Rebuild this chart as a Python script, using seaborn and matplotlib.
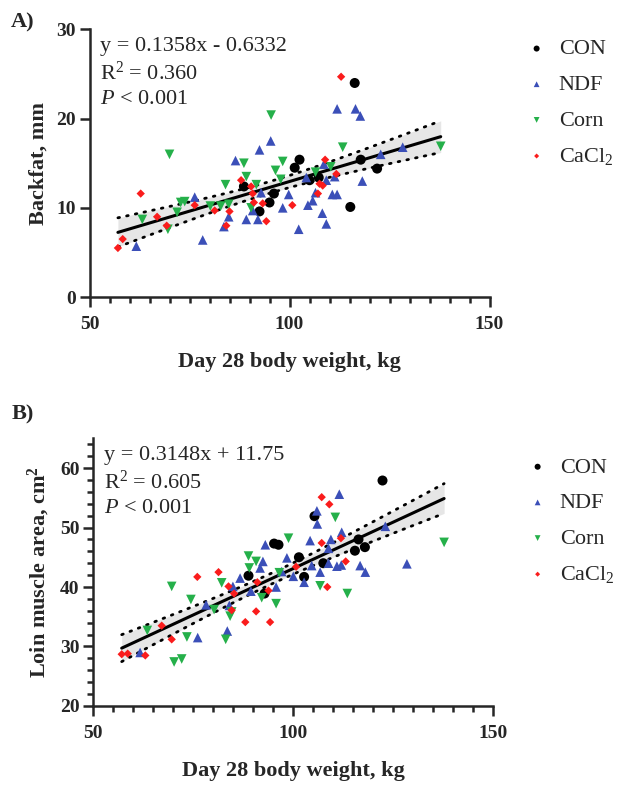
import numpy as np
import pandas as pd
import matplotlib
matplotlib.use("Agg")
import matplotlib.pyplot as plt
import seaborn as sns
from matplotlib.ticker import MultipleLocator

# ---- data ----
groups = ["CON", "NDF", "Corn", "CaCl2"]
group_labels = ["CON", "NDF", "Corn", "CaCl$_2$"]

# panel A: backfat (mm) vs day 28 body weight (kg)
bw_a_con = [88.6, 96.1, 95.0, 92.5, 101.3, 102.5, 105.0, 107.3, 117.8, 121.9, 115.2, 116.3]
bf_con = [12.4, 11.6, 10.6, 9.6, 14.5, 15.4, 13.1, 13.4, 15.4, 14.4, 10.1, 24.0]
bw_a_ndf = [95.3, 92.5, 86.5, 92.9, 99.8, 76.3, 98.3, 90.8, 84.8, 89.2, 92.1, 83.6, 78.3, 61.7, 102.3, 108.6,
            104.2, 109.2, 111.3, 118.2, 106.5, 110.7, 111.9, 105.8, 104.6, 108.2, 109.2, 111.9, 116.5, 117.7, 128.3, 122.8]
bf_ndf = [17.5, 16.5, 15.3, 11.7, 11.5, 11.2, 10.0, 9.7, 9.0, 8.7, 8.7, 7.9, 6.4, 5.7, 7.6, 14.9,
          13.4, 13.1, 13.5, 13.0, 11.7, 11.5, 11.5, 10.8, 10.3, 9.4, 8.2, 21.1, 21.1, 20.3, 16.8, 16.0]
bw_a_corn = [95.4, 70.0, 88.6, 98.3, 96.5, 89.2, 97.8, 84.0, 91.7, 73.8, 72.8, 80.2, 82.8, 84.8, 90.4, 71.9,
             63.2, 69.6, 110.3, 106.5, 113.3, 137.8]
bf_corn = [20.4, 16.0, 15.0, 15.2, 14.2, 13.5, 13.2, 12.6, 12.6, 10.7, 10.6, 10.2, 10.2, 10.4, 10.0, 9.5,
           8.7, 7.6, 14.6, 14.0, 16.8, 16.9]
bw_a_cacl2 = [62.8, 87.9, 90.4, 90.8, 76.3, 91.1, 93.3, 100.7, 81.3, 85.0, 94.2, 66.9, 69.3, 84.2, 58.3, 57.1,
              108.9, 107.5, 108.3, 111.7, 107.1, 112.9]
bf_cacl2 = [11.6, 13.1, 12.4, 11.6, 10.3, 10.6, 10.5, 10.3, 9.7, 9.6, 8.5, 9.0, 8.0, 8.0, 6.5, 5.5,
            15.4, 12.7, 12.5, 13.8, 11.6, 24.7]

# panel B: loin muscle area (cm2) vs day 28 body weight (kg)
bw_b_con = [95.2, 96.3, 105.3, 101.4, 88.8, 92.8, 102.7, 107.5, 115.4, 116.3, 117.9, 122.3]
lma_con = [47.3, 47.1, 51.9, 45.0, 41.9, 38.9, 41.7, 44.0, 46.1, 48.0, 46.7, 57.9]
bw_b_ndf = [93.0, 111.5, 105.9, 106.0, 123.0, 112.1, 109.4, 104.2, 108.8, 92.4, 91.7, 98.4, 86.7, 97.1, 100.0, 84.9,
            89.4, 95.7, 78.2, 84.0, 83.5, 76.1, 61.7, 102.7, 104.6, 106.7, 108.8, 110.9, 112.0, 116.7, 118.0, 128.4]
lma_ndf = [47.1, 55.6, 52.8, 50.6, 50.2, 49.2, 48.0, 47.8, 46.5, 44.3, 43.2, 44.9, 41.5, 42.6, 41.8, 40.1,
           39.3, 40.0, 37.0, 36.9, 32.6, 31.5, 29.0, 40.8, 43.6, 42.5, 44.0, 43.5, 43.7, 43.6, 42.5, 43.9]
bw_b_corn = [98.8, 88.8, 110.5, 137.7, 90.7, 89.0, 82.1, 96.5, 69.6, 92.1, 74.4, 80.2, 95.7, 84.6, 84.2, 63.5,
             73.4, 83.1, 70.2, 72.1, 106.7, 113.5]
lma_corn = [48.2, 45.2, 51.7, 47.5, 44.3, 43.2, 40.7, 42.4, 40.1, 38.2, 37.9, 36.2, 37.2, 35.8, 35.1, 32.7,
            31.6, 31.2, 27.4, 27.9, 40.2, 38.9]
bw_b_cacl2 = [107.1, 109.0, 111.9, 107.1, 81.3, 76.0, 91.0, 100.7, 83.8, 85.2, 93.8, 84.6, 90.7, 88.0, 94.2, 67.1,
              69.6, 57.1, 58.6, 63.0, 113.1, 108.5]
lma_cacl2 = [55.1, 53.9, 48.2, 47.4, 42.5, 41.7, 40.8, 43.4, 40.1, 38.9, 39.4, 36.1, 35.9, 34.1, 34.1, 33.5,
             31.2, 28.7, 28.8, 28.5, 44.3, 40.0]

stats_a = ["y = 0.1358x - 0.6332", "R$^2$ = 0.360", "$P$ < 0.001"]
stats_b = ["y = 0.3148x + 11.75", "R$^2$ = 0.605", "$P$ < 0.001"]

# ---- style ----
colors = ["#000000", "#3b4fb8", "#25b04a", "#fa1c1c"]
markers = ["o", "^", "v", "D"]
msizes = [52, 48, 48, 18]

sns.set_style("ticks")
plt.rcParams["font.family"] = ["Liberation Serif", "DejaVu Serif"]
plt.rcParams["mathtext.fontset"] = "custom"
plt.rcParams["mathtext.rm"] = "Liberation Serif"
plt.rcParams["mathtext.it"] = "Liberation Serif:italic"
plt.rcParams["mathtext.bf"] = "Liberation Serif:bold"


def make_df(xs, ys):
    rows = []
    for g, x, y in zip(groups, xs, ys):
        rows.append(pd.DataFrame({"bw": x, "y": y, "group": g}))
    return pd.concat(rows, ignore_index=True)


df_a = make_df([bw_a_con, bw_a_ndf, bw_a_corn, bw_a_cacl2], [bf_con, bf_ndf, bf_corn, bf_cacl2])
df_b = make_df([bw_b_con, bw_b_ndf, bw_b_corn, bw_b_cacl2], [lma_con, lma_ndf, lma_corn, lma_cacl2])


def draw_panel(ax, df, stats, ylabel, ylim, ymajor, yminor, leg_anchor):
    # linear fit with 95% confidence band
    x = df["bw"].values
    y = df["y"].values
    slope, inter = np.polyfit(x, y, 1)
    n = len(x)
    resid = y - (slope * x + inter)
    s = np.sqrt(np.sum(resid ** 2) / (n - 2))
    xs = np.linspace(x.min(), x.max(), 100)
    fit = slope * xs + inter
    se = s * np.sqrt(1 / n + (xs - x.mean()) ** 2 / np.sum((x - x.mean()) ** 2))
    t = 1.988
    ax.fill_between(xs, fit - t * se, fit + t * se, color="#e6e6e6", lw=0, zorder=1)
    ax.plot(xs, fit, color="black", lw=2.2, zorder=2)
    for band in (fit - t * se, fit + t * se):
        ax.plot(xs, band, color="black", lw=2.0, ls=(0, (0.6, 2.6)),
                dash_capstyle="round", zorder=2)

    for g, lab, c, m, sz in zip(groups, group_labels, colors, markers, msizes):
        sub = df[df["group"] == g]
        sns.scatterplot(data=sub, x="bw", y="y", marker=m, color=c, s=sz,
                        edgecolor="none", linewidth=0, label=lab, ax=ax, zorder=3)

    ax.set_xlim(50, 150)
    ax.set_ylim(*ylim)
    ax.xaxis.set_major_locator(MultipleLocator(50))
    ax.xaxis.set_minor_locator(MultipleLocator(5))
    ax.yaxis.set_major_locator(MultipleLocator(ymajor))
    if yminor:
        ax.yaxis.set_minor_locator(MultipleLocator(yminor))
    sns.despine(ax=ax)
    for sp in ("left", "bottom"):
        ax.spines[sp].set_linewidth(1.8)
    ax.tick_params(which="major", length=7, width=1.8, labelsize=14, pad=3)
    ax.tick_params(axis="x", which="major", pad=7)
    ax.tick_params(which="minor", length=4.5, width=1.8)
    for lab in ax.get_xticklabels() + ax.get_yticklabels():
        lab.set_fontweight("bold")

    ax.set_xlabel("Day 28 body weight, kg", fontsize=16, fontweight="bold")
    ax.set_ylabel(ylabel, fontsize=16, fontweight="bold")
    ax.xaxis.set_label_coords(0.5, -0.205)
    ax.yaxis.set_label_coords(-0.103, 0.5)

    for i, txt in enumerate(stats):
        ax.text(0.027, 0.935 - i * 0.099, txt, transform=ax.transAxes,
                fontsize=16, va="center", ha="left")

    ax.legend(loc="upper left", bbox_to_anchor=leg_anchor, frameon=False,
              fontsize=16, markerscale=0.6, handlelength=1.0, handletextpad=0.5,
              labelspacing=0.68, borderpad=0, borderaxespad=0)


fig = plt.figure(figsize=(6.22, 7.86), dpi=100)
ax_a = fig.add_axes([0.1439, 0.6221, 0.6431, 0.3404])
ax_b = fig.add_axes([0.1500, 0.1018, 0.6431, 0.3406])

draw_panel(ax_a, df_a, stats_a, "Backfat, mm", (0, 30), 10, None, (1.09, 0.965))
draw_panel(ax_b, df_b, stats_b, r"Loin muscle area, cm$^\mathbf{2}$", (20, 65), 10, 2, (1.083, 0.93))

fig.text(0.037, 0.972, "A)", fontsize=16, fontweight="bold", ha="center", va="center")
fig.text(0.037, 0.473, "B)", fontsize=16, fontweight="bold", ha="center", va="center")

fig.savefig("out.png", dpi=100)
